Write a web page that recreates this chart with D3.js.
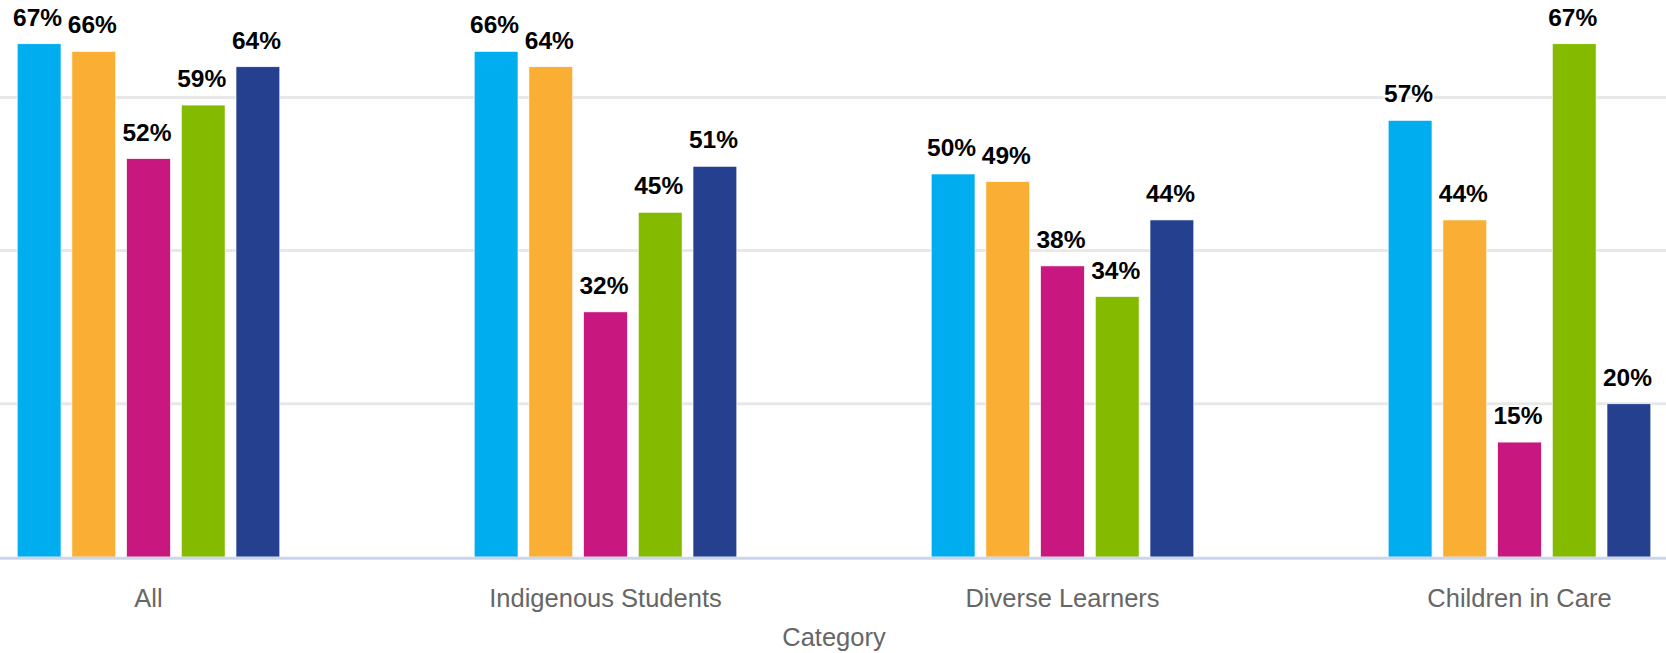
<!DOCTYPE html>
<html>
<head>
    <meta charset="UTF-8">
    <style>
        body {
            margin: 0;
            background: #fff;
        }
        svg text {
            font-family: "Liberation Sans", Arial, Helvetica, sans-serif;
        }
        .axis-label {
            fill: #666;
            font-size: 25.5px;
        }
        .data-label {
            fill: #000;
            font-size: 24.5px;
            font-weight: bold;
            stroke: #fff;
            stroke-width: 3px;
            stroke-linejoin: round;
            paint-order: stroke;
        }
    </style>
    <title>Category chart</title>
</head>
<body>
    <svg id="chart" width="1666" height="653"></svg>

    <script src="https://d3js.org/d3.v7.min.js"></script>
    <script>
        const categories = ["All", "Indigenous Students", "Diverse Learners", "Children in Care"];
        const seriesNames = ["s1", "s2", "s3", "s4", "s5"];
        const seriesColors = ["#00aeef", "#faae34", "#c8187f", "#84ba00", "#24408e"];
        const series1 = [67, 66, 50, 57];
        const series2 = [66, 64, 49, 44];
        const series3 = [52, 32, 38, 15];
        const series4 = [59, 45, 34, 67];
        const series5 = [64, 51, 44, 20];
        const gridTicks = [20, 40, 60];

        const allSeries = [series1, series2, series3, series4, series5];
        const width = 1666, baseY = 557;

        const svg = d3.select("#chart");

        // plot area runs a little past both sides of the picture
        const x0 = d3.scaleBand()
            .domain(categories)
            .range([-80, 1748]);

        const groupHalf = 136.75;
        const x1 = d3.scaleBand()
            .domain(seriesNames)
            .range([-groupHalf, groupHalf])
            .paddingInner(0.2)
            .paddingOuter(0.1);

        const y = d3.scaleLinear()
            .domain([0, 80])
            .range([baseY, baseY - 80 * 7.66]);

        // grid lines
        svg.append("g")
            .selectAll("line")
            .data(gridTicks)
            .join("line")
            .attr("x1", 0)
            .attr("x2", width)
            .attr("y1", d => y(d))
            .attr("y2", d => y(d))
            .attr("stroke", "#e8e8e8")
            .attr("stroke-width", 3);

        // bars
        const groups = svg.append("g")
            .selectAll("g")
            .data(categories)
            .join("g")
            .attr("transform", d => `translate(${x0(d) + x0.bandwidth() / 2}, 0)`);

        const points = groups.selectAll("g")
            .data((c, ci) => seriesNames.map((s, si) => ({ s, si, value: allSeries[si][ci] })))
            .join("g");

        points.append("rect")
            .attr("x", d => x1(d.s))
            .attr("y", d => y(d.value))
            .attr("width", x1.bandwidth())
            .attr("height", d => baseY - y(d.value))
            .attr("fill", d => seriesColors[d.si])
            .attr("stroke", "#fff")
            .attr("stroke-width", 0.6);

        // x axis line
        svg.append("line")
            .attr("x1", 0)
            .attr("x2", width)
            .attr("y1", baseY + 1.3)
            .attr("y2", baseY + 1.3)
            .attr("stroke", "#ccd6eb")
            .attr("stroke-width", 3);

        // data labels
        points.append("text")
            .attr("class", "data-label")
            .attr("x", d => x1(d.s) + x1.bandwidth() / 2 - 1.5)
            .attr("y", d => y(d.value) - 18)
            .attr("text-anchor", "middle")
            .text(d => `${d.value}%`);

        // category labels
        svg.append("g")
            .selectAll("text")
            .data(categories)
            .join("text")
            .attr("class", "axis-label")
            .attr("x", d => x0(d) + x0.bandwidth() / 2)
            .attr("y", 607)
            .attr("text-anchor", "middle")
            .text(d => d);

        // axis title
        svg.append("text")
            .attr("class", "axis-label")
            .attr("x", (x0.range()[0] + x0.range()[1]) / 2)
            .attr("y", 646)
            .attr("text-anchor", "middle")
            .text("Category");
    </script>
</body>
</html>
